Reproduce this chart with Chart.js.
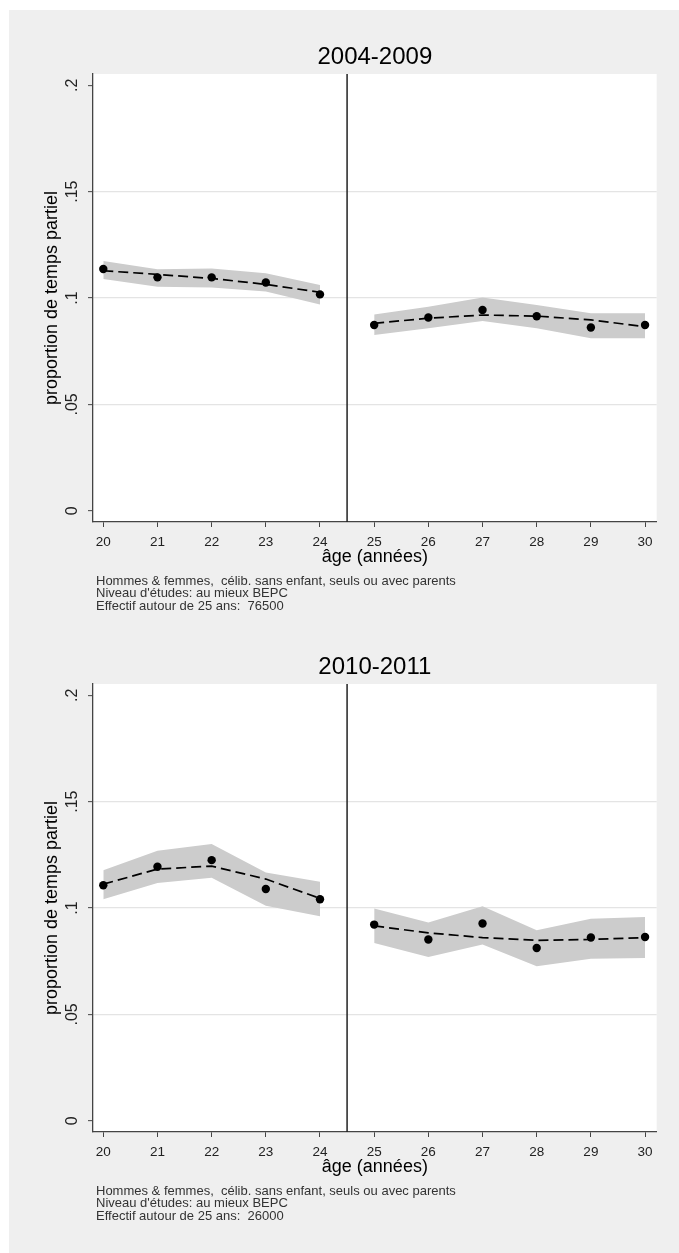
<!DOCTYPE html>
<html>
<head>
<meta charset="utf-8">
<script src="https://cdn.jsdelivr.net/npm/chart.js@4.4.1/dist/chart.umd.min.js"></script>
<style>
    html, body { margin: 0; background: #ffffff; overflow: hidden; }
    #graph { position: absolute; left: 9px; top: 10px; width: 670px; height: 1243px; background: #efefef; }
    .panel { position: absolute; left: 0; width: 670px; height: 610px; }
    .notes { position: absolute; left: 87px; top: 564.5px; font: 13px "Liberation Sans", Arial, sans-serif;
             line-height: 12.6px; color: #333; white-space: pre; }
</style>
</head>
<body>
<div id="graph">
    <div class="panel" style="top:0">
        <canvas id="chartTop" width="670" height="610"></canvas>
        <div class="notes" id="notesTop"></div>
    </div>
    <div class="panel" style="top:610px">
        <canvas id="chartBottom" width="670" height="610"></canvas>
        <div class="notes" id="notesBottom"></div>
    </div>
</div>
<script>
// ages, split at the 25-year threshold
const agesLeft = [20, 21, 22, 23, 24];
const agesRight = [25, 26, 27, 28, 29, 30];
const xTicks = [20, 21, 22, 23, 24, 25, 26, 27, 28, 29, 30];
const yTickValues = [0, 0.05, 0.1, 0.15, 0.2];
const yTickLabels = ['0', '.05', '.1', '.15', '.2'];
const threshold = 24.5;

// 2004-2009
const titleTop = '2004-2009';
const pointsTop = [0.1136, 0.1097, 0.1097, 0.1073, 0.1017, 0.0873, 0.0908, 0.0944, 0.0914, 0.0861, 0.0873];
const fitTop = [0.1128, 0.1111, 0.1092, 0.1064, 0.1027, 0.0881, 0.0905, 0.0920, 0.0915, 0.0897, 0.0865];
const upperTop = [0.1174, 0.1135, 0.1139, 0.1116, 0.1061, 0.0923, 0.0959, 0.1002, 0.0967, 0.0928, 0.0928];
const lowerTop = [0.1089, 0.1053, 0.1049, 0.1030, 0.0970, 0.0826, 0.0858, 0.0892, 0.0858, 0.0811, 0.0811];
const countTop = '76500';

// 2010-2011
const titleBottom = '2010-2011';
const pointsBottom = [0.1107, 0.1194, 0.1225, 0.1089, 0.1041, 0.0922, 0.0852, 0.0927, 0.0812, 0.0861, 0.0864];
const fitBottom = [0.1112, 0.1183, 0.1197, 0.1136, 0.1045, 0.0916, 0.0883, 0.0861, 0.0848, 0.0852, 0.0861];
const upperBottom = [0.1178, 0.1269, 0.1301, 0.1167, 0.1123, 0.0998, 0.0932, 0.1008, 0.0895, 0.0950, 0.0958];
const lowerBottom = [0.1041, 0.1118, 0.1142, 0.1010, 0.0961, 0.0836, 0.0770, 0.0829, 0.0726, 0.0762, 0.0765];
const countBottom = '26000';

const xMin = 19.81, xMax = 30.215;
const yMin = -0.0053, yMax = 0.2053;

const FONT = '"Liberation Sans", Arial, sans-serif';
const BAND = '#cccccc';

function toXY(ages, values, offset) {
    return ages.map((a, i) => ({ x: a, y: values[i + offset] }));
}

// white plot region, grey graph region around it
const plotBackgroundPlugin = {
    id: 'plotBackground',
    beforeDraw(chart) {
        const { ctx, chartArea: a } = chart;
        ctx.save();
        ctx.fillStyle = '#ffffff';
        ctx.fillRect(a.left, a.top, a.right - a.left, a.bottom - a.top);
        ctx.restore();
    }
};

// Stata-style rotated y tick labels
const yTickLabelPlugin = {
    id: 'yTickLabels',
    afterDraw(chart) {
        const scale = chart.scales.y;
        const ctx = chart.ctx;
        ctx.save();
        ctx.font = '16px ' + FONT;
        ctx.fillStyle = '#222';
        ctx.textAlign = 'center';
        ctx.textBaseline = 'middle';
        scale.ticks.forEach(t => {
            const idx = yTickValues.findIndex(v => Math.abs(v - t.value) < 1e-9);
            if (idx < 0) return;
            ctx.save();
            ctx.translate(scale.right - 20.5, scale.getPixelForValue(t.value));
            ctx.rotate(-Math.PI / 2);
            ctx.fillText(yTickLabels[idx], 0, 0);
            ctx.restore();
        });
        ctx.restore();
    }
};

function createPanel(canvasId, title, points, fit, upper, lower) {
    const ctx = document.getElementById(canvasId).getContext('2d');
    const nl = agesLeft.length;

    const datasets = [
        { label: 'points', type: 'scatter', data: [...toXY(agesLeft, points, 0), ...toXY(agesRight, points, nl)],
          backgroundColor: '#000', borderColor: '#000', pointRadius: 4.2, pointBorderWidth: 0, order: 1 },
        { label: 'fit gauche', data: toXY(agesLeft, fit, 0), borderColor: '#000', borderWidth: 1.7,
          borderDash: [10, 5], pointRadius: 0, fill: false, order: 2 },
        { label: 'fit droite', data: toXY(agesRight, fit, nl), borderColor: '#000', borderWidth: 1.7,
          borderDash: [10, 5], pointRadius: 0, fill: false, order: 2 },
        { label: 'seuil', data: [{ x: threshold, y: yMin }, { x: threshold, y: yMax }], borderColor: '#222',
          borderWidth: 1.5, pointRadius: 0, fill: false, order: 3 },
        { label: 'ic haut gauche', data: toXY(agesLeft, upper, 0), borderWidth: 0, pointRadius: 0,
          backgroundColor: BAND, fill: '+1', order: 4 },
        { label: 'ic bas gauche', data: toXY(agesLeft, lower, 0), borderWidth: 0, pointRadius: 0, fill: false, order: 4 },
        { label: 'ic haut droite', data: toXY(agesRight, upper, nl), borderWidth: 0, pointRadius: 0,
          backgroundColor: BAND, fill: '+1', order: 4 },
        { label: 'ic bas droite', data: toXY(agesRight, lower, nl), borderWidth: 0, pointRadius: 0, fill: false, order: 4 },
    ];

    return new Chart(ctx, {
        type: 'line',
        data: { datasets: datasets },
        plugins: [plotBackgroundPlugin, yTickLabelPlugin],
        options: {
            responsive: false,
            animation: false,
            events: [],
            layout: { padding: { left: 0, right: 22.3, top: 0, bottom: 46 } },
            plugins: {
                legend: { display: false },
                tooltip: { enabled: false },
                title: {
                    display: true, text: title, fullSize: false, color: '#000',
                    font: { family: FONT, size: 24, weight: 'normal', lineHeight: 1.2 },
                    padding: { top: 32.8, bottom: 2.4 },
                },
            },
            scales: {
                x: {
                    type: 'linear', min: xMin, max: xMax,
                    afterBuildTicks: s => { s.ticks = xTicks.map(v => ({ value: v })); },
                    afterFit: s => { s.height = 52; },
                    grid: { drawOnChartArea: false, drawTicks: true, tickLength: 5, tickColor: '#444', tickWidth: 1 },
                    border: { display: true, color: '#444', width: 1.3 },
                    ticks: { color: '#222', padding: 7.5, maxRotation: 0, autoSkip: false,
                             font: { family: FONT, size: 13.5 } },
                    title: { display: true, text: 'âge (années)', color: '#000',
                             font: { family: FONT, size: 18, lineHeight: 1.2 }, padding: { top: 0, bottom: 5.7 } },
                },
                y: {
                    type: 'linear', min: yMin, max: yMax,
                    afterBuildTicks: s => { s.ticks = yTickValues.map(v => ({ value: v })); },
                    afterFit: s => { s.width = 84; },
                    grid: {
                        drawTicks: true, tickLength: 5, tickColor: '#444', tickWidth: 1, lineWidth: 1.3,
                        color: c => (c.tick && (c.tick.value <= 0 || c.tick.value >= 0.2)) ? 'rgba(0,0,0,0)' : '#e4e4e4',
                    },
                    border: { display: true, color: '#444', width: 1.3 },
                    ticks: { display: false },
                    title: { display: true, text: 'proportion de temps partiel', color: '#000',
                             font: { family: FONT, size: 18, lineHeight: 1.2 }, padding: { top: 32.2, bottom: 0 } },
                },
            },
        },
    });
}

function notesText(count) {
    return 'Hommes & femmes,  célib. sans enfant, seuls ou avec parents\n' +
           'Niveau d\'études: au mieux BEPC\n' +
           'Effectif autour de 25 ans:  ' + count;
}

document.getElementById('notesTop').textContent = notesText(countTop);
document.getElementById('notesBottom').textContent = notesText(countBottom);

createPanel('chartTop', titleTop, pointsTop, fitTop, upperTop, lowerTop);
createPanel('chartBottom', titleBottom, pointsBottom, fitBottom, upperBottom, lowerBottom);
</script>
</body>
</html>
